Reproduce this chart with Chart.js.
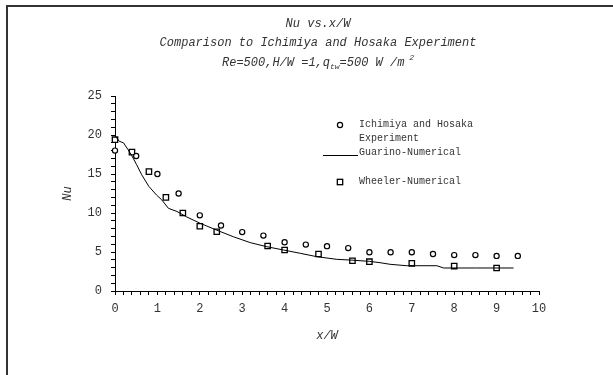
<!DOCTYPE html>
<html>
<head>
<meta charset="utf-8">
<script src="https://cdn.jsdelivr.net/npm/chart.js@4"></script>
<style>
html, body { margin: 0; padding: 0; background: #fff; overflow: hidden; }
#frame { position: absolute; left: 6px; top: 5px; width: 640px; height: 400px;
         border-left: 2px solid #333; border-top: 2px solid #333; }
#wrap { position: absolute; left: 0; top: 0; }
</style>
</head>
<body>
<div id="frame"><div id="wrap"><canvas id="nuChart" width="620" height="368"></canvas></div></div>
<script>
// data
const ichimiyaX = [0, 0.5, 1, 1.5, 2, 2.5, 3, 3.5, 4, 4.5, 5, 5.5, 6, 6.5, 7, 7.5, 8, 8.5, 9, 9.5];
const ichimiyaNu = [18.0, 17.3, 15.0, 12.5, 9.7, 8.4, 7.55, 7.1, 6.25, 5.95, 5.75, 5.5, 4.96, 4.96, 4.96, 4.75, 4.6, 4.6, 4.5, 4.5];

const guarinoX = [0, 0.1, 0.2, 0.31, 0.39, 0.51, 0.63, 0.8, 0.98, 1.1, 1.26, 1.46, 1.69, 2.0, 2.4, 2.79, 3.19, 3.58, 3.97, 4.37, 4.76, 5.23, 5.55, 6.0, 6.25, 6.49, 6.88, 7.59, 7.75, 8.5, 9.4];
const guarinoNu = [19.9, 19.2, 19.0, 18.1, 17.4, 16.2, 14.9, 13.4, 12.3, 11.7, 10.6, 10.2, 9.5, 8.7, 7.8, 6.96, 6.2, 5.68, 5.26, 4.83, 4.4, 4.06, 3.97, 3.8, 3.63, 3.42, 3.24, 3.24, 2.95, 2.95, 2.95];

const wheelerX = [0, 0.4, 0.8, 1.2, 1.6, 2.0, 2.4, 3.6, 4.0, 4.8, 5.6, 6.0, 7.0, 8.0, 9.0];
const wheelerNu = [19.4, 17.8, 15.3, 12.0, 10.0, 8.3, 7.6, 5.77, 5.26, 4.74, 3.88, 3.76, 3.55, 3.2, 2.95];

const seriesNames = ['Ichimiya and Hosaka', 'Guarino-Numerical', 'Wheeler-Numerical'];
const titleLine1 = 'Nu vs.x/W';
const titleLine2 = 'Comparison to Ichimiya and Hosaka Experiment';

const MONO = "'Liberation Mono', 'DejaVu Sans Mono', monospace";

function toPoints(xs, ys) {
    return xs.map((x, i) => ({ x: x, y: ys[i] }));
}

// titles and the inside legend
const decorPlugin = {
    id: 'decor',
    afterDraw(chart) {
        const ctx = chart.ctx;
        const cx = chart.width / 2;
        ctx.save();
        ctx.fillStyle = '#333';
        ctx.textBaseline = 'middle';
        ctx.textAlign = 'center';
        ctx.font = 'italic 12px ' + MONO;
        ctx.fillText(titleLine1, cx, 17);
        ctx.fillText(titleLine2, cx, 36);

        // third line with subscript and superscript
        const parts = [
            { t: 'Re=500,H/W =1,q', size: 12, dy: 0 },
            { t: 'tw', size: 8, dy: 4 },
            { t: '=500 W /m', size: 12, dy: 0 },
            { t: ' 2', size: 8, dy: -5 }
        ];
        let total = 0;
        parts.forEach(p => {
            ctx.font = 'italic ' + p.size + 'px ' + MONO;
            p.w = ctx.measureText(p.t).width;
            total += p.w;
        });
        let x = cx - total / 2;
        ctx.textAlign = 'left';
        parts.forEach(p => {
            ctx.font = 'italic ' + p.size + 'px ' + MONO;
            ctx.fillText(p.t, x, 56 + p.dy);
            x += p.w;
        });

        // legend
        ctx.font = '10px ' + MONO;
        ctx.fillStyle = '#333';
        const textX = 351;
        ctx.fillText(seriesNames[0], textX, 117);
        ctx.fillText('Experiment', textX, 131);
        ctx.fillText(seriesNames[1], textX, 145);
        ctx.fillText(seriesNames[2], textX, 174);

        const ds = chart.data.datasets;
        ctx.strokeStyle = '#000';
        ctx.fillStyle = '#fff';
        ctx.lineWidth = ds[0].borderWidth;
        ctx.beginPath();
        ctx.arc(332, 118, ds[0].pointRadius, 0, Math.PI * 2);
        ctx.fill();
        ctx.stroke();

        ctx.lineWidth = ds[1].borderWidth;
        ctx.beginPath();
        ctx.moveTo(315, 148.5);
        ctx.lineTo(350, 148.5);
        ctx.stroke();

        const s = ds[2].pointRadius / Math.SQRT2;
        ctx.lineWidth = ds[2].borderWidth;
        ctx.fillRect(332 - s, 175 - s, 2 * s, 2 * s);
        ctx.strokeRect(332 - s, 175 - s, 2 * s, 2 * s);
        ctx.restore();
    }
};

const tickFont = { family: MONO, size: 12 };

new Chart(document.getElementById('nuChart'), {
    type: 'scatter',
    data: {
        datasets: [{
            label: seriesNames[0],
            data: toPoints(ichimiyaX, ichimiyaNu),
            pointStyle: 'circle',
            pointRadius: 2.6,
            borderColor: '#000',
            backgroundColor: '#fff',
            borderWidth: 1.2,
            clip: false
        }, {
            label: seriesNames[1],
            data: toPoints(guarinoX, guarinoNu),
            showLine: true,
            pointRadius: 0,
            borderColor: '#000',
            borderWidth: 1,
            tension: 0
        }, {
            label: seriesNames[2],
            data: toPoints(wheelerX, wheelerNu),
            pointStyle: 'rect',
            pointRadius: 3.8,
            borderColor: '#000',
            backgroundColor: '#fff',
            borderWidth: 1.3,
            clip: false
        }]
    },
    options: {
        responsive: false,
        animation: false,
        layout: { padding: { top: 89, right: 89, left: 0, bottom: 0 } },
        plugins: {
            legend: { display: false },
            tooltip: { enabled: false }
        },
        scales: {
            x: {
                type: 'linear',
                min: 0,
                max: 10,
                afterFit(scale) { scale.height = 84; },
                ticks: {
                    stepSize: 0.2,
                    maxTicksLimit: 100,
                    autoSkip: false,
                    maxRotation: 0,
                    color: '#333',
                    font: tickFont,
                    padding: 7,
                    callback: v => Math.abs(v - Math.round(v)) < 1e-6 ? String(Math.round(v)) : ''
                },
                grid: { drawOnChartArea: false, drawTicks: true, tickLength: 4, color: '#000' },
                border: { color: '#000', width: 1 },
                title: {
                    display: true,
                    text: 'x/W',
                    color: '#333',
                    font: { family: MONO, size: 12, style: 'italic' },
                    padding: { top: 0, bottom: 32 }
                }
            },
            y: {
                min: 0,
                max: 25,
                afterFit(scale) { scale.width = 107; },
                ticks: {
                    stepSize: 1,
                    maxTicksLimit: 100,
                    autoSkip: false,
                    color: '#333',
                    font: tickFont,
                    padding: 9,
                    callback: v => v % 5 === 0 ? String(v) : ''
                },
                grid: { drawOnChartArea: false, drawTicks: true, tickLength: 4, color: '#000' },
                border: { color: '#000', width: 1 },
                title: {
                    display: true,
                    text: 'Nu',
                    color: '#333',
                    font: { family: MONO, size: 12, style: 'italic' },
                    padding: { top: 53, bottom: 0 }
                }
            }
        }
    },
    plugins: [decorPlugin]
});
</script>
</body>
</html>
